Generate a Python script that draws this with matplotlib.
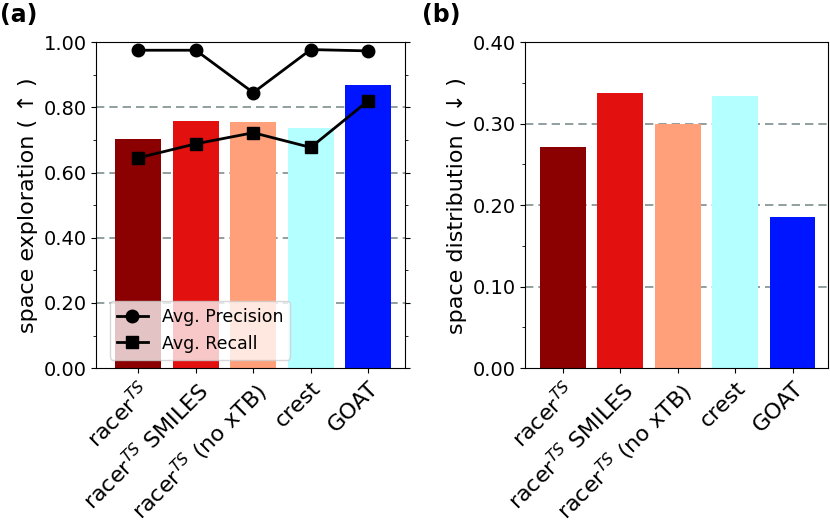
import matplotlib
matplotlib.use("Agg")
import matplotlib.pyplot as plt
from matplotlib.ticker import MultipleLocator, FormatStrFormatter

# methods and colours
methods = [r"racer$^{TS}$", r"racer$^{TS}$ SMILES", r"racer$^{TS}$ (no xTB)", "crest", "GOAT"]
colors = ["#8b0000", "#e31010", "#ffa07a", "#b4ffff", "#0015ff"]

# (a) space exploration
exploration = [0.704, 0.757, 0.754, 0.736, 0.867]
precision = [0.975, 0.975, 0.845, 0.977, 0.973]
recall = [0.645, 0.688, 0.722, 0.677, 0.820]

# (b) space distribution
distribution = [0.271, 0.338, 0.299, 0.334, 0.186]

plt.rcParams["font.size"] = 13
fig = plt.figure(figsize=(8.3, 5.26), dpi=100)
ax1 = fig.add_axes([0.116, 0.300, 0.372, 0.620])
ax2 = fig.add_axes([0.633, 0.300, 0.364, 0.620])

x = list(range(len(methods)))
grid_kw = dict(color="#7f8f8f", linestyle="--", linewidth=1.2, dashes=(5, 3))

# left panel
ax1.bar(x, exploration, width=0.8, color=colors, zorder=2)
ax1.plot(x, precision, "-o", color="black", lw=2, ms=9, label="Avg. Precision", zorder=3)
ax1.plot(x, recall, "-s", color="black", lw=2, ms=9, label="Avg. Recall", zorder=3)
ax1.set_ylim(0, 1.0)
ax1.set_xlim(-0.73, 4.64)
ax1.yaxis.set_major_locator(MultipleLocator(0.2))
ax1.yaxis.set_minor_locator(MultipleLocator(0.1))
ax1.yaxis.set_major_formatter(FormatStrFormatter("%.2f"))
for v in [0.2, 0.4, 0.6, 0.8]:
    ax1.axhline(v, zorder=1, **grid_kw)
ax1.tick_params(axis="y", which="both", right=True)
ax1.set_ylabel("space exploration ( \u2191 )", fontsize=16)
ax1.legend(loc="lower left", bbox_to_anchor=(0.015, 0.0), fontsize=12.5, framealpha=0.77,
           handlelength=1.8)

# right panel
ax2.bar(x, distribution, width=0.8, color=colors, zorder=2)
ax2.set_ylim(0, 0.4)
ax2.set_xlim(-0.656, 4.61)
ax2.yaxis.set_major_locator(MultipleLocator(0.1))
ax2.yaxis.set_minor_locator(MultipleLocator(0.05))
ax2.yaxis.set_major_formatter(FormatStrFormatter("%.2f"))
for v in [0.1, 0.2, 0.3]:
    ax2.axhline(v, zorder=1, **grid_kw)
ax2.set_ylabel("space distribution ( \u2193 )", fontsize=16)

for ax in (ax1, ax2):
    ax.set_xticks(x)
    ax.set_xticklabels(methods, rotation=45, ha="right", rotation_mode="anchor")
    ax.tick_params(axis="y", which="major", labelsize=14)
    ax.tick_params(axis="x", labelsize=16)

fig.text(0.0, 0.995, "(a)", fontsize=17, fontweight="bold", va="top", ha="left")
fig.text(0.508, 0.995, "(b)", fontsize=17, fontweight="bold", va="top", ha="left")

fig.savefig("out.png", dpi=100)
